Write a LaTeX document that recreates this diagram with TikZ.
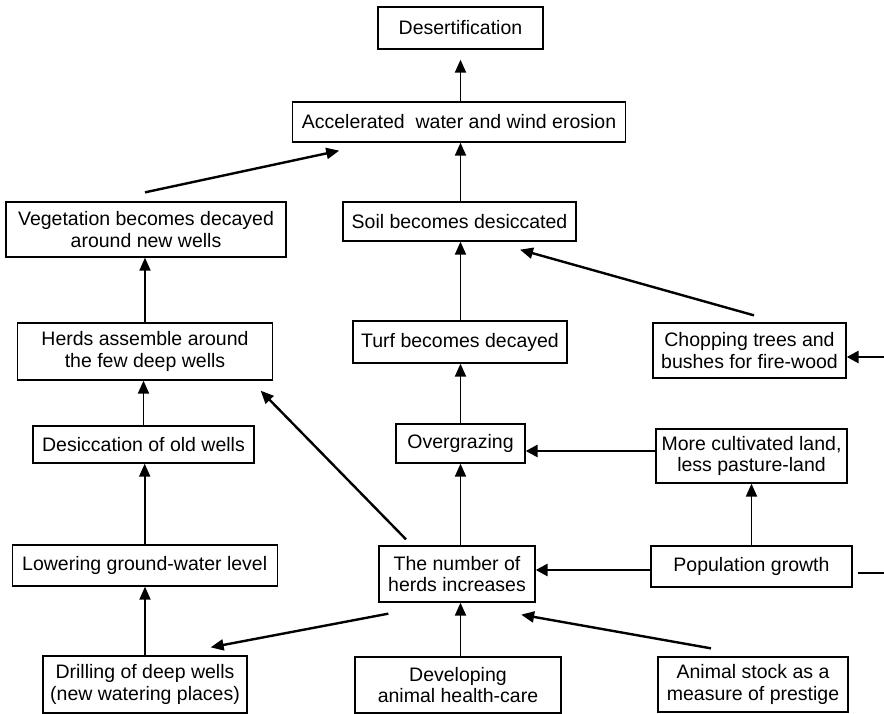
\documentclass[tikz,border=0pt]{standalone}
\usepackage{fontspec}
\setmainfont{Liberation Sans}
\usetikzlibrary{arrows.meta,calc}
\begin{document}
\begin{tikzpicture}[x=1pt,y=-1pt,
  box/.style={draw,line width=1.3pt,inner sep=0pt,align=center,
    font=\fontsize{19.5}{21.5}\selectfont},
  sz/.style 2 args={minimum width=#1pt,minimum height=#2pt},
  arr/.style={line width=1.9pt,-{Triangle[length=13pt,width=11pt]}},
  darr/.style={line width=2.4pt,-{Triangle[length=13pt,width=11pt]}},
  harr/.style={line width=2.7pt,-{Triangle[length=12pt,width=12pt]}},
  hline/.style={line width=2.7pt}]
\useasboundingbox (0,0) rectangle (884,714);
\fill[white] (0,0) rectangle (884,714);
% nodes
\node[box,sz={165}{42}] (des) at (460.5,28) {Desertification};
\node[box,sz={333}{40}] (acc) at (459,122) {Accelerated~ water and wind erosion};
\node[box,sz={280}{55}] (veg) at (146,229.5) {Vegetation becomes decayed\\around new wells};
\node[box,sz={233}{39}] (soil) at (459.5,221.5) {Soil becomes desiccated};
\node[box,sz={255}{57}] (herds) at (145,351.5) {Herds assemble around\\the few deep wells};
\node[box,sz={214}{42}] (turf) at (460,342) {Turf becomes decayed};
\node[box,sz={193}{55}] (chop) at (749.5,350.5) {Chopping trees and\\bushes for fire-wood};
\node[box,sz={221}{37}] (desic) at (143.5,444.5) {Desiccation of old wells};
\node[box,sz={129}{39}] (over) at (460.5,443.5) {Overgrazing};
\node[box,sz={191}{54}] (more) at (751.5,456) {More cultivated land,\\less pasture-land};
\node[box,sz={265}{41}] (lower) at (144.7,565.5) {Lowering ground-water level};
\node[box,sz={156}{56}] (num) at (457,574) {The number of\\herds increases};
\node[box,sz={201}{41}] (pop) at (751.5,566.5) {Population growth};
\node[box,sz={204}{57}] (drill) at (145,684.5) {Drilling of deep wells\\(new watering places)};
\node[box,sz={206}{56}] (dev) at (458,685) {Developing\\animal health-care};
\node[box,sz={190}{55}] (animal) at (753,684.5) {Animal stock as a\\measure of prestige};
% helper coordinates
\coordinate (v1) at ($(veg.north)+(-1,-9)$);
\coordinate (v2) at ($(acc.south west)+(47.4,8)$);
\coordinate (c1) at ($(chop.north)+(4.5,-7)$);
\coordinate (c2) at ($(soil.south)+(60.5,8)$);
\coordinate (n1) at ($(num.north)+(-51,-6)$);
\coordinate (n2) at ($(herds.south east)+(-12.5,10)$);
\coordinate (m1) at ($(more.west)+(0,-5)$);
\coordinate (p1) at ($(pop.west)+(0,3.5)$);
\coordinate (p2) at ($(pop.east)+(5,6.5)$);
\coordinate (pe) at (884,573);
\coordinate (ce) at (884,357);
\coordinate (d1) at ($(num.south west)+(10,11)$);
\coordinate (d2) at ($(drill.north east)+(-37,-8)$);
\coordinate (a1) at ($(animal.north)+(-42,-8)$);
\coordinate (a2) at ($(num.south east)+(-14.5,12)$);
% central column
\draw[arr,shorten >=10pt] (over.south |- acc.north) -- (over.south |- des.south);
\draw[arr] (over.south |- soil.north) -- (over.south |- acc.south);
\draw[arr] (over.south |- turf.north) -- (over.south |- soil.south);
\draw[arr] (over.north) -- (over.north |- turf.south);
\draw[arr] (over.south |- num.north) -- (over.south);
\draw[arr] (over.south |- dev.north) -- (over.south |- num.south);
% left column
\draw[arr] (herds.north) -- (herds.north |- veg.south);
\draw[arr] (desic.north) -- (desic.north |- herds.south);
\draw[arr] (lower.north) -- (lower.north |- desic.south);
\draw[arr] (drill.north) -- (drill.north |- lower.south);
% right column
\draw[arr] (pop.north) -- (pop.north |- more.south);
% diagonals
\draw[darr] (v1) -- (v2);
\draw[darr] (c1) -- (c2);
\draw[darr] (n1) -- (n2);
\draw[darr] (d1) -- (d2);
\draw[darr] (a1) -- (a2);
% horizontals
\draw[harr] (m1) -- (over.east |- m1);
\draw[harr] (p1) -- (num.east |- p1);
\draw[hline] (p2) -- (pe);
\draw[harr] (ce) -- (chop.east |- ce);
\end{tikzpicture}
\end{document}
